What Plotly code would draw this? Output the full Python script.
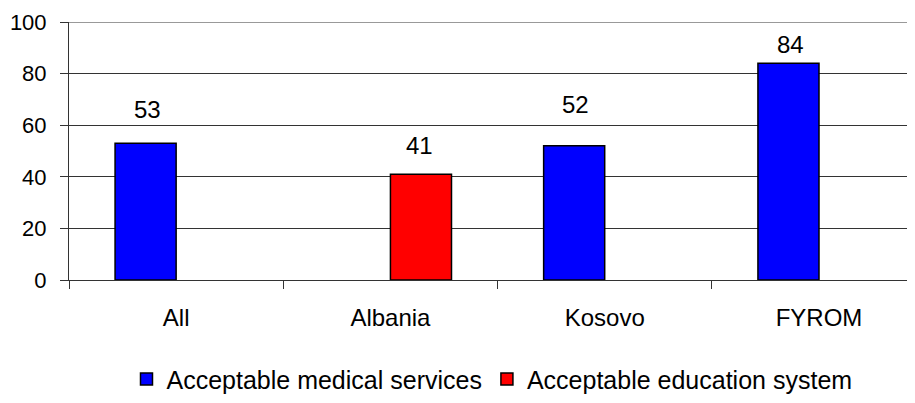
import plotly.graph_objects as go

# ==========================================================
# DATA
# ==========================================================
categories = ["All", "Albania", "Kosovo", "FYROM"]
medical = [53, None, 52, 84]
education = [None, 41, None, None]

# how far above each bar top its value label sits (px)
label_lift = [34, 29, 41, 19]

FONT = "Liberation Sans, Arial, sans-serif"

fig = go.Figure()

fig.add_trace(go.Bar(
    x=categories, y=medical, name="Acceptable medical services",
    marker=dict(color="#0000FF", line=dict(color="black", width=1.5))
))
fig.add_trace(go.Bar(
    x=categories, y=education, name="Acceptable education system",
    marker=dict(color="#FF0000", line=dict(color="black", width=1.5))
))

# value labels
for i, cat in enumerate(categories):
    if medical[i] is not None:
        val, shift = medical[i], -29
    else:
        val, shift = education[i], 29
    fig.add_annotation(
        x=cat, y=val, text=str(val), showarrow=False,
        xshift=shift, yshift=label_lift[i], yanchor="middle",
        font=dict(family=FONT, size=24, color="black")
    )

# top border line of the plot area
fig.add_shape(type="line", xref="paper", yref="y", x0=0, x1=1, y0=100, y1=100,
              line=dict(color="#999999", width=2))

# page body has an 8px margin, so the figure is sized/offset to fit the window
fig.update_layout(
    width=907, height=395,
    margin=dict(l=61, r=0, t=14, b=116),
    barmode="group", bargap=0.43, bargroupgap=0,
    plot_bgcolor="white", paper_bgcolor="white",
    font=dict(family=FONT, size=22, color="black"),
    showlegend=True,
    legend=dict(orientation="h", x=0.5, xanchor="center", y=-0.385, yanchor="middle",
                font=dict(size=25), itemwidth=30, traceorder="normal"),
    xaxis=dict(
        range=[-0.5, 3.448], showline=True, linecolor="#333333", linewidth=1,
        ticks="outside", tickson="boundaries", ticklen=8, tickcolor="#333333",
        ticklabelstandoff=16, showgrid=False, fixedrange=True, automargin=False,
        tickfont=dict(size=24)
    ),
    yaxis=dict(
        range=[0, 100], dtick=20, showline=True, linecolor="#333333", linewidth=1,
        ticks="outside", ticklen=8, tickcolor="#333333", ticklabelstandoff=9,
        showgrid=True, gridcolor="#333333", gridwidth=1, zeroline=False,
        automargin=False, tickfont=dict(size=22)
    ),
)

fig.write_html("out.html")
